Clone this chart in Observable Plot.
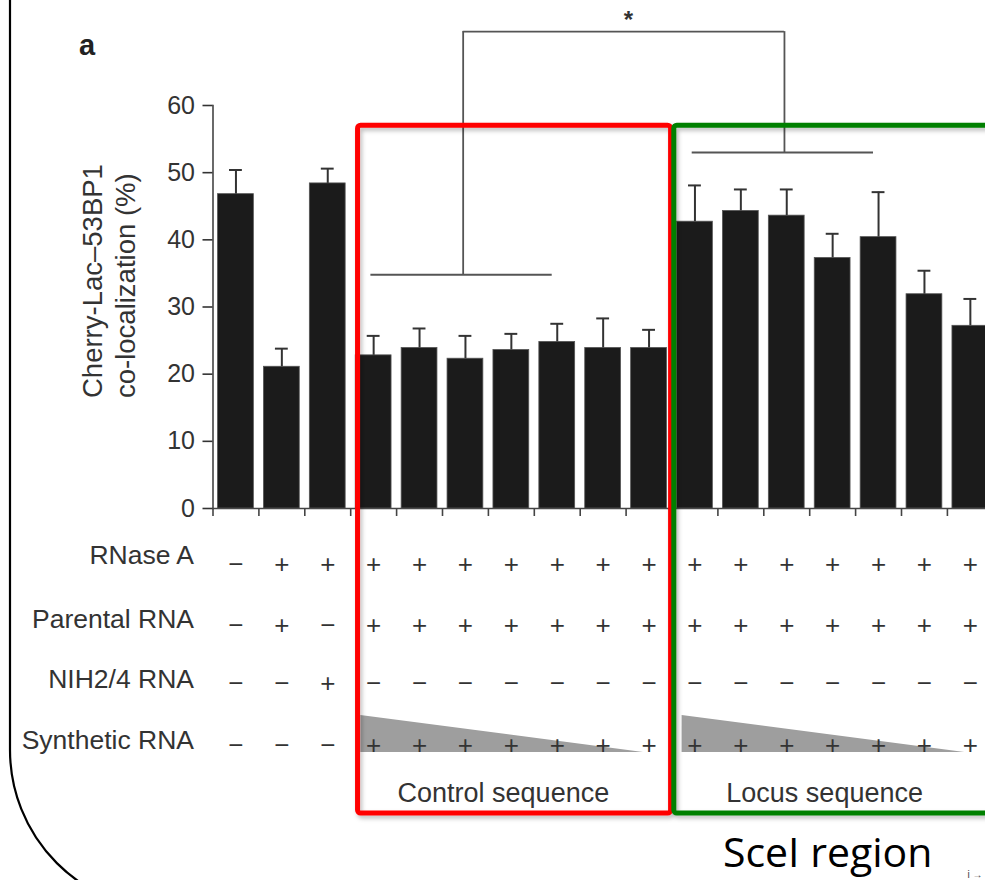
<!DOCTYPE html>
<html><head><meta charset="utf-8">
<script src="https://cdn.jsdelivr.net/npm/d3@7"></script>
<script src="https://cdn.jsdelivr.net/npm/@observablehq/plot@0.6"></script>
<style>html,body{margin:0;padding:0;background:#fff;overflow:hidden}</style>
</head><body><div id="chart"></div>
<script>
// ---- data ----
const conditions = ["None","RNase A + Parental","RNase A + NIH2/4",
  "Ctrl 1","Ctrl 2","Ctrl 3","Ctrl 4","Ctrl 5","Ctrl 6","Ctrl 7",
  "Locus 1","Locus 2","Locus 3","Locus 4","Locus 5","Locus 6","Locus 7"];
const values = [46.8, 21.1, 48.4, 22.8, 23.9, 22.3, 23.6, 24.8, 23.9, 23.9, 42.7, 44.3, 43.6, 37.3, 40.4, 31.9, 27.2];
const sem    = [3.6, 2.7, 2.2, 2.9, 2.9, 3.4, 2.4, 2.7, 4.4, 2.7, 5.4, 3.2, 3.9, 3.6, 6.7, 3.5, 4.0];
const yTicks = [0, 10, 20, 30, 40, 50, 60];
const yLabel = "Cherry-Lac\u201353BP1\nco-localization (%)";
const rowLabels = ["RNase A", "Parental RNA", "NIH2/4 RNA", "Synthetic RNA"];
const P = "+", M = "\u2212";
const rnaseA    = [M,P,P, P,P,P,P,P,P,P, P,P,P,P,P,P,P];
const parental  = [M,P,M, P,P,P,P,P,P,P, P,P,P,P,P,P,P];
const nih24     = [M,M,P, M,M,M,M,M,M,M, M,M,M,M,M,M,M];
const synthetic = [M,M,M, P,P,P,P,P,P,P, P,P,P,P,P,P,P];
const signRows = [rnaseA, parental, nih24, synthetic];
const groupNames = ["Control sequence", "Locus sequence"];
const groupStarts = [3, 10];
const groupEnds = [9, 16];
const bracketLevels = [34.8, 53.0];
const topBracketLevel = 71.0;
const significance = "*";
const panelLabel = "a";
const regionLabel = "SceI region";

// ---- layout ----
const W = 985, H = 880, mL = 212.5, mT = 105, mB = 372;
const step = 45.9;
const frameBottom = H - mB;
const font = "'Liberation Sans', Arial, Helvetica, sans-serif";
const ink = "#333";

const data = values.map((v, i) => ({i, name: conditions[i], v, e: v + sem[i]}));
const boundaries = d3.range(values.length).map(i => i - 0.5);
const groups = groupNames.map((name, k) => ({name, start: groupStarts[k], end: groupEnds[k], level: bracketLevels[k]}));

const marks = [
  Plot.frame({anchor: "left", stroke: "#444", strokeWidth: 1.6}),
  Plot.frame({anchor: "bottom", stroke: "#444", strokeWidth: 1.6}),
  Plot.axisY({ticks: yTicks, tickSize: 10, tickPadding: 8, fontSize: 25, color: ink, strokeWidth: 1.6}),
  Plot.axisX({ticks: boundaries, tickSize: 8, tickFormat: () => "", color: "#444", strokeWidth: 1.6}),
  Plot.rect(data, {x1: d => d.i - 0.39, x2: d => d.i + 0.39, y1: 0, y2: "v", fill: "#1b1b1b", stroke: "#555", strokeWidth: 0.8}),
  Plot.ruleX(data, {x: "i", y1: "v", y2: "e", stroke: ink, strokeWidth: 2}),
  Plot.ruleY(data, {y: "e", x1: d => d.i - 0.14, x2: d => d.i + 0.14, stroke: ink, strokeWidth: 2}),
  // comparison brackets
  Plot.ruleY(groups, {y: "level", x1: g => g.start - 0.06, x2: g => g.start + 3.89, stroke: "#555", strokeWidth: 1.8}),
  Plot.ruleX(groups, {x: g => g.start + 1.95, y1: "level", y2: topBracketLevel, stroke: "#555", strokeWidth: 1.8}),
  Plot.ruleY([topBracketLevel], {x1: groups[0].start + 1.95, x2: groups[1].start + 1.95, stroke: "#555", strokeWidth: 1.8}),
  Plot.text([significance], {x: (groups[0].start + groups[1].start) / 2 + 1.95 + 0.1, y: topBracketLevel, dy: -11, fontSize: 24, fontWeight: "bold", fill: ink, fontFamily: font}),
  // y label
  Plot.text([yLabel], {frameAnchor: "left", dx: -105, dy: 91, rotate: -90, fontSize: 27.5, lineHeight: 1.2, fill: ink, fontFamily: font}),
  // panel label
  Plot.text([panelLabel], {frameAnchor: "top-left", dx: -134, dy: -71, textAnchor: "start", fontWeight: "bold", fontSize: 29, fill: "#222", fontFamily: font}),
  // group labels
  Plot.text(groups, {x: g => (g.start + g.end) / 2, text: "name", frameAnchor: "bottom", dx: -8, dy: 293, fontSize: 27, fill: ink, fontFamily: font}),
  Plot.text([regionLabel], {x: (groups[1].start + groups[1].end) / 2, frameAnchor: "bottom", dx: -5, dy: 358, fontSize: 41, fill: "#000", fontFamily: "'Open Sans', Lato, sans-serif"})
];

const labelDy = [55, 119, 179, 240];
const signDy = [64, 125, 183, 245];
signRows.forEach((row, r) => {
  marks.push(Plot.text([rowLabels[r]], {frameAnchor: "bottom-left", textAnchor: "end", dx: -19, dy: labelDy[r], fontSize: 26.5, fill: ink, fontFamily: font}));
  marks.push(Plot.text(row.map((s, i) => ({i, s})), {x: "i", text: "s", frameAnchor: "bottom", dy: signDy[r], fontSize: 26, fill: ink, fontFamily: font}));
});

const chart = Plot.plot({
  width: W, height: H,
  marginLeft: mL, marginRight: 0, marginTop: mT, marginBottom: mB,
  style: {fontFamily: font, background: "transparent", overflow: "hidden"},
  x: {domain: [-0.5, values.length - 0.5], range: [mL, mL + step * values.length], axis: null},
  y: {domain: [0, 60], axis: null},
  marks
});

// ---- annotation overlays using the plot's scales ----
const xs = chart.scale("x"), ys = chart.scale("y");
const svg = d3.select(chart);
const defs = svg.insert("defs", ":first-child");
const f = defs.append("filter").attr("id", "shadow").attr("x", "-5%").attr("y", "-5%").attr("width", "110%").attr("height", "110%");
f.append("feDropShadow").attr("dx", 2).attr("dy", 3).attr("stdDeviation", 2).attr("flood-color", "#000").attr("flood-opacity", 0.25);

// wedges (synthetic RNA gradient) below text
const wedgeG = svg.insert("g", "defs + *");
groups.forEach(g => {
  const x0 = xs.apply(g.start - 0.28), x1 = xs.apply(g.start + 5.88);
  wedgeG.append("path")
    .attr("d", `M${x0},${frameBottom + 207}L${x0},${frameBottom + 244}L${x1},${frameBottom + 244}Z`)
    .attr("fill", "#9e9e9e");
});

// highlight boxes
const boxColors = ["#ff0000", "#008000"];
const boxX = [[2.66, 9.48], [9.55, 17.3]];
groups.forEach((g, k) => {
  const x0 = xs.apply(boxX[k][0]), x1 = xs.apply(boxX[k][1]);
  const y0 = ys.apply(57), y1 = frameBottom + 305;
  svg.append("rect").attr("x", x0).attr("y", y0).attr("width", x1 - x0).attr("height", y1 - y0)
    .attr("rx", 3).attr("fill", "none").attr("stroke", boxColors[k]).attr("stroke-width", 5)
    .attr("filter", "url(#shadow)");
});

// outer rounded panel border
svg.append("path").attr("d", "M10,-20L10,750A160,160 0 0 0 170,910L1100,910")
  .attr("fill", "none").attr("stroke", "#000").attr("stroke-width", 2.2);

document.getElementById("chart").appendChild(chart);
</script>
</body></html>
